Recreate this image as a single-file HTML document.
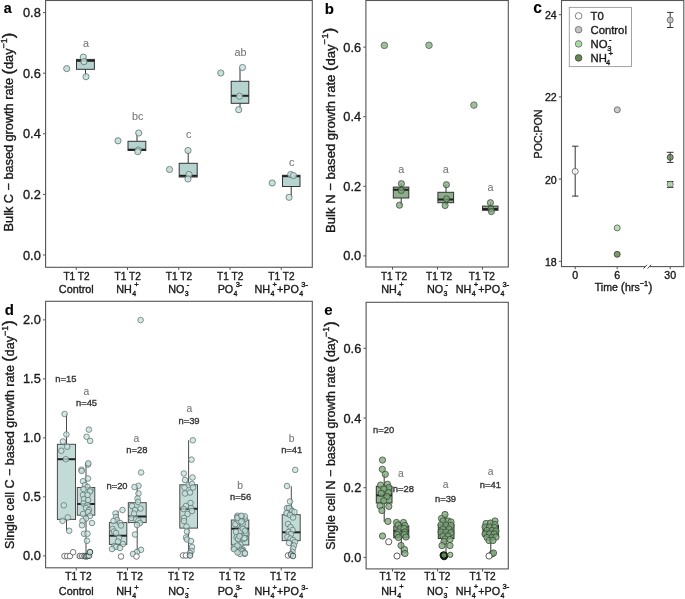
<!DOCTYPE html><html><head><meta charset="utf-8"><style>html,body{margin:0;padding:0;background:#fff;overflow:hidden}svg{display:block;will-change:transform;filter:blur(0.3px)}text{font-family:"Liberation Sans",sans-serif;stroke:currentColor;stroke-width:0.35px}</style></head><body><svg width="685" height="599" viewBox="0 0 685 599" font-family="Liberation Sans, sans-serif">
<rect width="685" height="599" fill="#fff"/>
<line x1="43.00" y1="255.00" x2="45.60" y2="255.00" stroke="#555" stroke-width="1"/>
<text x="40.80" y="259.50" font-size="12.8" text-anchor="end" fill="#1a1a1a" color="#1a1a1a" >0.0</text>
<line x1="43.00" y1="194.40" x2="45.60" y2="194.40" stroke="#555" stroke-width="1"/>
<text x="40.80" y="198.90" font-size="12.8" text-anchor="end" fill="#1a1a1a" color="#1a1a1a" >0.2</text>
<line x1="43.00" y1="133.80" x2="45.60" y2="133.80" stroke="#555" stroke-width="1"/>
<text x="40.80" y="138.30" font-size="12.8" text-anchor="end" fill="#1a1a1a" color="#1a1a1a" >0.4</text>
<line x1="43.00" y1="73.20" x2="45.60" y2="73.20" stroke="#555" stroke-width="1"/>
<text x="40.80" y="77.70" font-size="12.8" text-anchor="end" fill="#1a1a1a" color="#1a1a1a" >0.6</text>
<line x1="43.00" y1="12.60" x2="45.60" y2="12.60" stroke="#555" stroke-width="1"/>
<text x="40.80" y="17.10" font-size="12.8" text-anchor="end" fill="#1a1a1a" color="#1a1a1a" >0.8</text>
<line x1="76.25" y1="267.30" x2="76.25" y2="269.90" stroke="#555" stroke-width="1"/>
<line x1="127.50" y1="267.30" x2="127.50" y2="269.90" stroke="#555" stroke-width="1"/>
<line x1="178.75" y1="267.30" x2="178.75" y2="269.90" stroke="#555" stroke-width="1"/>
<line x1="230.00" y1="267.30" x2="230.00" y2="269.90" stroke="#555" stroke-width="1"/>
<line x1="281.25" y1="267.30" x2="281.25" y2="269.90" stroke="#555" stroke-width="1"/>
<circle cx="66.70" cy="68.60" r="3.1" fill="#c6e0dc" stroke="#5d7370" stroke-width="0.8"/>
<circle cx="118.00" cy="140.80" r="3.1" fill="#c6e0dc" stroke="#5d7370" stroke-width="0.8"/>
<circle cx="169.50" cy="169.50" r="3.1" fill="#c6e0dc" stroke="#5d7370" stroke-width="0.8"/>
<circle cx="220.80" cy="73.00" r="3.1" fill="#c6e0dc" stroke="#5d7370" stroke-width="0.8"/>
<circle cx="272.20" cy="183.00" r="3.1" fill="#c6e0dc" stroke="#5d7370" stroke-width="0.8"/>
<line x1="85.50" y1="57.10" x2="85.50" y2="59.40" stroke="#333" stroke-width="1.0"/>
<line x1="85.50" y1="69.30" x2="85.50" y2="76.70" stroke="#333" stroke-width="1.0"/>
<rect x="76.50" y="59.40" width="17.90" height="9.90" fill="#b5d3cf" stroke="#333" stroke-width="1.0"/>
<line x1="76.50" y1="60.80" x2="94.40" y2="60.80" stroke="#222" stroke-width="2.0"/>
<line x1="137.00" y1="133.00" x2="137.00" y2="141.30" stroke="#333" stroke-width="1.0"/>
<line x1="137.00" y1="150.50" x2="137.00" y2="151.70" stroke="#333" stroke-width="1.0"/>
<rect x="128.00" y="141.30" width="17.80" height="9.20" fill="#b5d3cf" stroke="#333" stroke-width="1.0"/>
<line x1="128.00" y1="149.70" x2="145.80" y2="149.70" stroke="#222" stroke-width="2.0"/>
<line x1="188.20" y1="150.50" x2="188.20" y2="163.30" stroke="#333" stroke-width="1.0"/>
<line x1="188.20" y1="177.00" x2="188.20" y2="179.00" stroke="#333" stroke-width="1.0"/>
<rect x="179.20" y="163.30" width="18.00" height="13.70" fill="#b5d3cf" stroke="#333" stroke-width="1.0"/>
<line x1="179.20" y1="175.80" x2="197.20" y2="175.80" stroke="#222" stroke-width="2.0"/>
<line x1="240.00" y1="67.50" x2="240.00" y2="81.30" stroke="#333" stroke-width="1.0"/>
<line x1="240.00" y1="103.30" x2="240.00" y2="109.70" stroke="#333" stroke-width="1.0"/>
<rect x="231.20" y="81.30" width="17.60" height="22.00" fill="#b5d3cf" stroke="#333" stroke-width="1.0"/>
<line x1="231.20" y1="95.80" x2="248.80" y2="95.80" stroke="#222" stroke-width="2.0"/>
<line x1="291.20" y1="175.30" x2="291.20" y2="175.30" stroke="#333" stroke-width="1.0"/>
<line x1="291.20" y1="186.50" x2="291.20" y2="197.30" stroke="#333" stroke-width="1.0"/>
<rect x="282.50" y="175.30" width="17.50" height="11.20" fill="#b5d3cf" stroke="#333" stroke-width="1.0"/>
<line x1="282.50" y1="176.20" x2="300.00" y2="176.20" stroke="#222" stroke-width="2.0"/>
<circle cx="83.30" cy="57.10" r="3.1" fill="#c6e0dc" stroke="#5d7370" stroke-width="0.8" fill-opacity="0.85"/>
<circle cx="84.00" cy="61.70" r="3.1" fill="#c6e0dc" stroke="#5d7370" stroke-width="0.8" fill-opacity="0.85"/>
<circle cx="86.00" cy="76.70" r="3.1" fill="#c6e0dc" stroke="#5d7370" stroke-width="0.8" fill-opacity="0.85"/>
<circle cx="138.70" cy="133.00" r="3.1" fill="#c6e0dc" stroke="#5d7370" stroke-width="0.8" fill-opacity="0.85"/>
<circle cx="138.30" cy="150.00" r="3.1" fill="#c6e0dc" stroke="#5d7370" stroke-width="0.8" fill-opacity="0.85"/>
<circle cx="137.80" cy="151.70" r="3.1" fill="#c6e0dc" stroke="#5d7370" stroke-width="0.8" fill-opacity="0.85"/>
<circle cx="188.00" cy="150.50" r="3.1" fill="#c6e0dc" stroke="#5d7370" stroke-width="0.8" fill-opacity="0.85"/>
<circle cx="189.00" cy="174.50" r="3.1" fill="#c6e0dc" stroke="#5d7370" stroke-width="0.8" fill-opacity="0.85"/>
<circle cx="188.00" cy="179.00" r="3.1" fill="#c6e0dc" stroke="#5d7370" stroke-width="0.8" fill-opacity="0.85"/>
<circle cx="242.50" cy="67.50" r="3.1" fill="#c6e0dc" stroke="#5d7370" stroke-width="0.8" fill-opacity="0.85"/>
<circle cx="239.50" cy="96.20" r="3.1" fill="#c6e0dc" stroke="#5d7370" stroke-width="0.8" fill-opacity="0.85"/>
<circle cx="238.70" cy="109.70" r="3.1" fill="#c6e0dc" stroke="#5d7370" stroke-width="0.8" fill-opacity="0.85"/>
<circle cx="290.70" cy="174.50" r="3.1" fill="#c6e0dc" stroke="#5d7370" stroke-width="0.8" fill-opacity="0.85"/>
<circle cx="293.50" cy="175.60" r="3.1" fill="#c6e0dc" stroke="#5d7370" stroke-width="0.8" fill-opacity="0.85"/>
<circle cx="289.10" cy="197.30" r="3.1" fill="#c6e0dc" stroke="#5d7370" stroke-width="0.8" fill-opacity="0.85"/>
<text x="86.00" y="47.00" font-size="10.8" text-anchor="middle" fill="#777" color="#777" style="stroke-width:0.1px" >a</text>
<text x="137.80" y="119.80" font-size="10.8" text-anchor="middle" fill="#777" color="#777" style="stroke-width:0.1px" >bc</text>
<text x="188.80" y="138.20" font-size="10.8" text-anchor="middle" fill="#777" color="#777" style="stroke-width:0.1px" >c</text>
<text x="240.40" y="56.20" font-size="10.8" text-anchor="middle" fill="#777" color="#777" style="stroke-width:0.1px" >ab</text>
<text x="291.70" y="165.90" font-size="10.8" text-anchor="middle" fill="#777" color="#777" style="stroke-width:0.1px" >c</text>
<rect x="45.60" y="0.50" width="266.70" height="266.80" fill="none" stroke="#555" stroke-width="1.1"/>
<text x="76.55" y="279.80" font-size="10.1" text-anchor="middle" fill="#1a1a1a" color="#1a1a1a" >T1 T2</text>
<text x="76.25" y="292.60" font-size="10.8" text-anchor="middle" fill="#1a1a1a" color="#1a1a1a" >Control</text>
<text x="127.70" y="279.80" font-size="10.1" text-anchor="middle" fill="#1a1a1a" color="#1a1a1a" >T1 T2</text>
<text x="116.29" y="292.60" font-size="10.8" text-anchor="start" fill="#1a1a1a" color="#1a1a1a" >NH</text>
<text x="132.19" y="295.90" font-size="7.0" text-anchor="start" fill="#1a1a1a" color="#1a1a1a" >4</text>
<text x="134.30" y="287.30" font-size="7.6" text-anchor="start" fill="#1a1a1a" color="#1a1a1a" >+</text>
<text x="178.95" y="279.80" font-size="10.1" text-anchor="middle" fill="#1a1a1a" color="#1a1a1a" >T1 T2</text>
<text x="168.18" y="292.60" font-size="10.8" text-anchor="start" fill="#1a1a1a" color="#1a1a1a" >NO</text>
<text x="184.68" y="295.90" font-size="7.0" text-anchor="start" fill="#1a1a1a" color="#1a1a1a" >3</text>
<text x="186.80" y="287.30" font-size="7.6" text-anchor="start" fill="#1a1a1a" color="#1a1a1a" >-</text>
<text x="230.20" y="279.80" font-size="10.1" text-anchor="middle" fill="#1a1a1a" color="#1a1a1a" >T1 T2</text>
<text x="217.63" y="292.60" font-size="10.8" text-anchor="start" fill="#1a1a1a" color="#1a1a1a" >PO</text>
<text x="233.53" y="295.90" font-size="7.0" text-anchor="start" fill="#1a1a1a" color="#1a1a1a" >4</text>
<text x="235.65" y="287.30" font-size="7.6" text-anchor="start" fill="#1a1a1a" color="#1a1a1a" >3-</text>
<text x="281.45" y="279.80" font-size="10.1" text-anchor="middle" fill="#1a1a1a" color="#1a1a1a" >T1 T2</text>
<text x="254.51" y="292.60" font-size="10.8" text-anchor="start" fill="#1a1a1a" color="#1a1a1a" >NH</text>
<text x="270.41" y="295.90" font-size="7.0" text-anchor="start" fill="#1a1a1a" color="#1a1a1a" >4</text>
<text x="272.53" y="287.30" font-size="7.6" text-anchor="start" fill="#1a1a1a" color="#1a1a1a" >+</text>
<text x="276.94" y="292.60" font-size="10.8" text-anchor="start" fill="#1a1a1a" color="#1a1a1a" >+PO</text>
<text x="299.15" y="295.90" font-size="7.0" text-anchor="start" fill="#1a1a1a" color="#1a1a1a" >4</text>
<text x="301.27" y="287.30" font-size="7.6" text-anchor="start" fill="#1a1a1a" color="#1a1a1a" >3-</text>
<g transform="translate(13.30,132.00) rotate(-90)">
<text x="0" y="0" font-size="12.7" text-anchor="middle" fill="#1a1a1a" color="#1a1a1a">Bulk C − based growth rate <tspan font-size="16.5" dy="0.4">(</tspan><tspan dy="-0.4">day</tspan><tspan font-size="9.1" dy="-6.0">−1</tspan><tspan font-size="16.5" dy="6.4">)</tspan></text>
</g>
<text x="3.80" y="13.10" font-size="14.3" text-anchor="start" fill="#000" color="#000" font-weight="bold" style="stroke-width:0.1px" >a</text>
<line x1="363.30" y1="255.90" x2="365.90" y2="255.90" stroke="#555" stroke-width="1"/>
<text x="361.10" y="260.40" font-size="12.8" text-anchor="end" fill="#1a1a1a" color="#1a1a1a" >0.0</text>
<line x1="363.30" y1="186.30" x2="365.90" y2="186.30" stroke="#555" stroke-width="1"/>
<text x="361.10" y="190.80" font-size="12.8" text-anchor="end" fill="#1a1a1a" color="#1a1a1a" >0.2</text>
<line x1="363.30" y1="116.70" x2="365.90" y2="116.70" stroke="#555" stroke-width="1"/>
<text x="361.10" y="121.20" font-size="12.8" text-anchor="end" fill="#1a1a1a" color="#1a1a1a" >0.4</text>
<line x1="363.30" y1="47.10" x2="365.90" y2="47.10" stroke="#555" stroke-width="1"/>
<text x="361.10" y="51.60" font-size="12.8" text-anchor="end" fill="#1a1a1a" color="#1a1a1a" >0.6</text>
<line x1="392.50" y1="267.00" x2="392.50" y2="269.60" stroke="#555" stroke-width="1"/>
<line x1="437.50" y1="267.00" x2="437.50" y2="269.60" stroke="#555" stroke-width="1"/>
<line x1="482.50" y1="267.00" x2="482.50" y2="269.60" stroke="#555" stroke-width="1"/>
<circle cx="384.40" cy="45.40" r="3.3" fill="#9fbf9c" stroke="#4a574a" stroke-width="0.7"/>
<circle cx="429.00" cy="45.30" r="3.3" fill="#9fbf9c" stroke="#4a574a" stroke-width="0.7"/>
<circle cx="473.90" cy="105.10" r="3.3" fill="#9fbf9c" stroke="#4a574a" stroke-width="0.7"/>
<line x1="401.20" y1="183.70" x2="401.20" y2="187.10" stroke="#333" stroke-width="1.0"/>
<line x1="401.20" y1="198.00" x2="401.20" y2="205.20" stroke="#333" stroke-width="1.0"/>
<rect x="393.30" y="187.10" width="15.50" height="10.90" fill="#8cae89" stroke="#333" stroke-width="1.0"/>
<line x1="393.30" y1="189.80" x2="408.80" y2="189.80" stroke="#222" stroke-width="2.0"/>
<line x1="446.00" y1="184.70" x2="446.00" y2="192.30" stroke="#333" stroke-width="1.0"/>
<line x1="446.00" y1="202.70" x2="446.00" y2="205.50" stroke="#333" stroke-width="1.0"/>
<rect x="437.90" y="192.30" width="15.70" height="10.40" fill="#8cae89" stroke="#333" stroke-width="1.0"/>
<line x1="437.90" y1="199.50" x2="453.60" y2="199.50" stroke="#222" stroke-width="2.0"/>
<line x1="490.50" y1="202.70" x2="490.50" y2="206.10" stroke="#333" stroke-width="1.0"/>
<line x1="490.50" y1="210.30" x2="490.50" y2="211.60" stroke="#333" stroke-width="1.0"/>
<rect x="482.50" y="206.10" width="15.50" height="4.20" fill="#8cae89" stroke="#333" stroke-width="1.0"/>
<line x1="482.50" y1="209.00" x2="498.00" y2="209.00" stroke="#222" stroke-width="2.0"/>
<circle cx="401.40" cy="183.70" r="3.1" fill="#7ea67b" stroke="#2f3d2e" stroke-width="0.7" fill-opacity="0.75"/>
<circle cx="401.20" cy="190.40" r="3.1" fill="#7ea67b" stroke="#2f3d2e" stroke-width="0.7" fill-opacity="0.75"/>
<circle cx="399.50" cy="205.20" r="3.1" fill="#7ea67b" stroke="#2f3d2e" stroke-width="0.7" fill-opacity="0.75"/>
<circle cx="446.40" cy="184.70" r="3.1" fill="#7ea67b" stroke="#2f3d2e" stroke-width="0.7" fill-opacity="0.75"/>
<circle cx="446.40" cy="198.90" r="3.1" fill="#7ea67b" stroke="#2f3d2e" stroke-width="0.7" fill-opacity="0.75"/>
<circle cx="445.10" cy="205.50" r="3.1" fill="#7ea67b" stroke="#2f3d2e" stroke-width="0.7" fill-opacity="0.75"/>
<circle cx="490.40" cy="202.70" r="3.1" fill="#7ea67b" stroke="#2f3d2e" stroke-width="0.7" fill-opacity="0.75"/>
<circle cx="491.00" cy="209.00" r="3.1" fill="#7ea67b" stroke="#2f3d2e" stroke-width="0.7" fill-opacity="0.75"/>
<circle cx="491.40" cy="211.60" r="3.1" fill="#7ea67b" stroke="#2f3d2e" stroke-width="0.7" fill-opacity="0.75"/>
<text x="401.30" y="173.00" font-size="10.8" text-anchor="middle" fill="#777" color="#777" style="stroke-width:0.1px" >a</text>
<text x="445.80" y="173.00" font-size="10.8" text-anchor="middle" fill="#777" color="#777" style="stroke-width:0.1px" >a</text>
<text x="490.40" y="190.50" font-size="10.8" text-anchor="middle" fill="#777" color="#777" style="stroke-width:0.1px" >a</text>
<rect x="365.90" y="0.50" width="142.40" height="266.50" fill="none" stroke="#555" stroke-width="1.1"/>
<text x="394.00" y="279.80" font-size="10.1" text-anchor="middle" fill="#1a1a1a" color="#1a1a1a" >T1 T2</text>
<text x="381.29" y="292.60" font-size="10.8" text-anchor="start" fill="#1a1a1a" color="#1a1a1a" >NH</text>
<text x="397.19" y="295.90" font-size="7.0" text-anchor="start" fill="#1a1a1a" color="#1a1a1a" >4</text>
<text x="399.30" y="287.30" font-size="7.6" text-anchor="start" fill="#1a1a1a" color="#1a1a1a" >+</text>
<text x="439.10" y="279.80" font-size="10.1" text-anchor="middle" fill="#1a1a1a" color="#1a1a1a" >T1 T2</text>
<text x="426.93" y="292.60" font-size="10.8" text-anchor="start" fill="#1a1a1a" color="#1a1a1a" >NO</text>
<text x="443.43" y="295.90" font-size="7.0" text-anchor="start" fill="#1a1a1a" color="#1a1a1a" >3</text>
<text x="445.55" y="287.30" font-size="7.6" text-anchor="start" fill="#1a1a1a" color="#1a1a1a" >-</text>
<text x="481.90" y="279.80" font-size="10.1" text-anchor="middle" fill="#1a1a1a" color="#1a1a1a" >T1 T2</text>
<text x="455.76" y="292.60" font-size="10.8" text-anchor="start" fill="#1a1a1a" color="#1a1a1a" >NH</text>
<text x="471.66" y="295.90" font-size="7.0" text-anchor="start" fill="#1a1a1a" color="#1a1a1a" >4</text>
<text x="473.78" y="287.30" font-size="7.6" text-anchor="start" fill="#1a1a1a" color="#1a1a1a" >+</text>
<text x="478.19" y="292.60" font-size="10.8" text-anchor="start" fill="#1a1a1a" color="#1a1a1a" >+PO</text>
<text x="500.40" y="295.90" font-size="7.0" text-anchor="start" fill="#1a1a1a" color="#1a1a1a" >4</text>
<text x="502.52" y="287.30" font-size="7.6" text-anchor="start" fill="#1a1a1a" color="#1a1a1a" >3-</text>
<g transform="translate(334.80,130.40) rotate(-90)">
<text x="0" y="0" font-size="13.1" text-anchor="middle" fill="#1a1a1a" color="#1a1a1a">Bulk N − based growth rate <tspan font-size="16.5" dy="0.4">(</tspan><tspan dy="-0.4">day</tspan><tspan font-size="9.7" dy="-6.6">−1</tspan><tspan font-size="16.5" dy="7.0">)</tspan></text>
</g>
<text x="324.80" y="13.90" font-size="15" text-anchor="start" fill="#000" color="#000" font-weight="bold" style="stroke-width:0.1px" >b</text>
<line x1="558.90" y1="261.30" x2="561.50" y2="261.30" stroke="#555" stroke-width="1"/>
<text x="556.70" y="265.80" font-size="10.6" text-anchor="end" fill="#1a1a1a" color="#1a1a1a" >18</text>
<line x1="558.90" y1="179.10" x2="561.50" y2="179.10" stroke="#555" stroke-width="1"/>
<text x="556.70" y="183.60" font-size="10.6" text-anchor="end" fill="#1a1a1a" color="#1a1a1a" >20</text>
<line x1="558.90" y1="96.90" x2="561.50" y2="96.90" stroke="#555" stroke-width="1"/>
<text x="556.70" y="101.40" font-size="10.6" text-anchor="end" fill="#1a1a1a" color="#1a1a1a" >22</text>
<line x1="558.90" y1="14.70" x2="561.50" y2="14.70" stroke="#555" stroke-width="1"/>
<text x="556.70" y="19.20" font-size="10.6" text-anchor="end" fill="#1a1a1a" color="#1a1a1a" >24</text>
<line x1="575.20" y1="266.60" x2="575.20" y2="269.20" stroke="#555" stroke-width="1"/>
<line x1="617.20" y1="266.60" x2="617.20" y2="269.20" stroke="#555" stroke-width="1"/>
<line x1="670.20" y1="266.60" x2="670.20" y2="269.20" stroke="#555" stroke-width="1"/>
<text x="575.20" y="278.70" font-size="10.6" text-anchor="middle" fill="#1a1a1a" color="#1a1a1a" >0</text>
<text x="617.20" y="278.70" font-size="10.6" text-anchor="middle" fill="#1a1a1a" color="#1a1a1a" >6</text>
<text x="670.20" y="278.70" font-size="10.6" text-anchor="middle" fill="#1a1a1a" color="#1a1a1a" >30</text>
<line x1="575.20" y1="146.20" x2="575.20" y2="196.10" stroke="#333" stroke-width="1"/>
<line x1="572.00" y1="146.20" x2="578.40" y2="146.20" stroke="#333" stroke-width="1"/>
<line x1="572.00" y1="196.10" x2="578.40" y2="196.10" stroke="#333" stroke-width="1"/>
<line x1="670.20" y1="12.40" x2="670.20" y2="27.50" stroke="#333" stroke-width="1"/>
<line x1="667.00" y1="12.40" x2="673.40" y2="12.40" stroke="#333" stroke-width="1"/>
<line x1="667.00" y1="27.50" x2="673.40" y2="27.50" stroke="#333" stroke-width="1"/>
<line x1="670.20" y1="152.30" x2="670.20" y2="162.40" stroke="#333" stroke-width="1"/>
<line x1="666.90" y1="152.30" x2="673.50" y2="152.30" stroke="#333" stroke-width="1"/>
<line x1="666.90" y1="162.40" x2="673.50" y2="162.40" stroke="#333" stroke-width="1"/>
<line x1="670.20" y1="181.50" x2="670.20" y2="187.40" stroke="#333" stroke-width="1"/>
<line x1="666.90" y1="181.50" x2="673.50" y2="181.50" stroke="#333" stroke-width="1"/>
<line x1="666.90" y1="187.40" x2="673.50" y2="187.40" stroke="#333" stroke-width="1"/>
<circle cx="575.20" cy="171.40" r="3.0" fill="#ffffff" stroke="#555" stroke-width="0.8" fill-opacity="0.82"/>
<circle cx="617.30" cy="109.80" r="3.0" fill="#c4c4c4" stroke="#555" stroke-width="0.8" fill-opacity="0.85"/>
<circle cx="670.20" cy="20.00" r="3.0" fill="#c4c4c4" stroke="#555" stroke-width="0.8" fill-opacity="0.8"/>
<circle cx="617.20" cy="227.90" r="3.0" fill="#aadba3" stroke="#555" stroke-width="0.8" fill-opacity="0.85"/>
<circle cx="617.20" cy="254.30" r="3.0" fill="#628a4f" stroke="#333" stroke-width="0.8" fill-opacity="0.85"/>
<circle cx="670.20" cy="157.30" r="3.0" fill="#628a4f" stroke="#333" stroke-width="0.8" fill-opacity="0.8"/>
<circle cx="670.20" cy="184.30" r="3.0" fill="#aadba3" stroke="#555" stroke-width="0.8" fill-opacity="0.8"/>
<rect x="561.50" y="0.50" width="122.30" height="266.10" fill="none" stroke="#555" stroke-width="1.1"/>
<rect x="645" y="264.6" width="5" height="4" fill="#fff"/>
<line x1="643.60" y1="268.60" x2="647.00" y2="264.80" stroke="#333" stroke-width="0.9"/>
<line x1="647.60" y1="268.60" x2="651.00" y2="264.80" stroke="#333" stroke-width="0.9"/>
<rect x="569.30" y="7.40" width="62.20" height="59.20" fill="#fff" stroke="#999" stroke-width="0.9"/>
<circle cx="578.60" cy="15.90" r="3.3" fill="#ffffff" stroke="#666" stroke-width="0.8"/>
<circle cx="578.60" cy="29.70" r="3.3" fill="#c4c4c4" stroke="#666" stroke-width="0.8"/>
<circle cx="578.60" cy="43.90" r="3.3" fill="#aadba3" stroke="#666" stroke-width="0.8"/>
<circle cx="578.60" cy="57.90" r="3.3" fill="#628a4f" stroke="#444" stroke-width="0.8"/>
<text x="590.50" y="19.80" font-size="11.3" text-anchor="start" fill="#1a1a1a" color="#1a1a1a" >T0</text>
<text x="590.50" y="33.70" font-size="11.3" text-anchor="start" fill="#1a1a1a" color="#1a1a1a" >Control</text>
<text x="590.50" y="47.60" font-size="11.3" text-anchor="start" fill="#1a1a1a" color="#1a1a1a" >NO</text>
<text x="607.20" y="50.60" font-size="7.6" text-anchor="start" fill="#1a1a1a" color="#1a1a1a" >3</text>
<text x="608.90" y="42.40" font-size="7.6" text-anchor="start" fill="#1a1a1a" color="#1a1a1a" >-</text>
<text x="590.50" y="61.60" font-size="11.3" text-anchor="start" fill="#1a1a1a" color="#1a1a1a" >NH</text>
<text x="606.00" y="64.80" font-size="7.4" text-anchor="start" fill="#1a1a1a" color="#1a1a1a" >4</text>
<text x="608.60" y="56.00" font-size="7.9" text-anchor="start" fill="#1a1a1a" color="#1a1a1a" >+</text>
<g transform="translate(541.5,134) rotate(-90)"><text x="0" y="0" font-size="10.6" text-anchor="middle" fill="#1a1a1a" color="#1a1a1a">POC:PON</text></g>
<text x="623.6" y="290.6" font-size="10.6" text-anchor="middle" fill="#1a1a1a" color="#1a1a1a">Time <tspan font-size="12.6" dy="0.3">(</tspan><tspan dy="-0.3">hrs</tspan><tspan font-size="7.4" dy="-4.6">−1</tspan><tspan font-size="12.6" dy="4.9">)</tspan></text>
<text x="533.20" y="12.90" font-size="15.6" text-anchor="start" fill="#000" color="#000" font-weight="bold" style="stroke-width:0.1px" >c</text>
<line x1="43.00" y1="555.90" x2="45.60" y2="555.90" stroke="#555" stroke-width="1"/>
<text x="40.80" y="560.40" font-size="12.8" text-anchor="end" fill="#1a1a1a" color="#1a1a1a" >0.0</text>
<line x1="43.00" y1="496.90" x2="45.60" y2="496.90" stroke="#555" stroke-width="1"/>
<text x="40.80" y="501.40" font-size="12.8" text-anchor="end" fill="#1a1a1a" color="#1a1a1a" >0.5</text>
<line x1="43.00" y1="437.90" x2="45.60" y2="437.90" stroke="#555" stroke-width="1"/>
<text x="40.80" y="442.40" font-size="12.8" text-anchor="end" fill="#1a1a1a" color="#1a1a1a" >1.0</text>
<line x1="43.00" y1="378.90" x2="45.60" y2="378.90" stroke="#555" stroke-width="1"/>
<text x="40.80" y="383.40" font-size="12.8" text-anchor="end" fill="#1a1a1a" color="#1a1a1a" >1.5</text>
<line x1="43.00" y1="319.90" x2="45.60" y2="319.90" stroke="#555" stroke-width="1"/>
<text x="40.80" y="324.40" font-size="12.8" text-anchor="end" fill="#1a1a1a" color="#1a1a1a" >2.0</text>
<line x1="76.25" y1="567.80" x2="76.25" y2="570.40" stroke="#555" stroke-width="1"/>
<line x1="127.50" y1="567.80" x2="127.50" y2="570.40" stroke="#555" stroke-width="1"/>
<line x1="178.75" y1="567.80" x2="178.75" y2="570.40" stroke="#555" stroke-width="1"/>
<line x1="230.00" y1="567.80" x2="230.00" y2="570.40" stroke="#555" stroke-width="1"/>
<line x1="281.25" y1="567.80" x2="281.25" y2="570.40" stroke="#555" stroke-width="1"/>
<line x1="66.50" y1="414.00" x2="66.50" y2="444.30" stroke="#4a4a4a" stroke-width="1.0"/>
<line x1="66.50" y1="519.40" x2="66.50" y2="530.80" stroke="#4a4a4a" stroke-width="1.0"/>
<rect x="57.40" y="444.30" width="18.10" height="75.10" fill="#c2dbd7" stroke="#4a4a4a" stroke-width="1.0"/>
<line x1="57.40" y1="459.20" x2="75.50" y2="459.20" stroke="#222" stroke-width="2.0"/>
<line x1="86.00" y1="463.30" x2="86.00" y2="487.50" stroke="#4a4a4a" stroke-width="1.0"/>
<line x1="86.00" y1="515.20" x2="86.00" y2="556.00" stroke="#4a4a4a" stroke-width="1.0"/>
<rect x="77.30" y="487.50" width="17.50" height="27.70" fill="#c2dbd7" stroke="#4a4a4a" stroke-width="1.0"/>
<line x1="77.30" y1="504.00" x2="94.80" y2="504.00" stroke="#222" stroke-width="2.0"/>
<line x1="118.00" y1="510.60" x2="118.00" y2="522.60" stroke="#4a4a4a" stroke-width="1.0"/>
<line x1="118.00" y1="544.40" x2="118.00" y2="549.00" stroke="#4a4a4a" stroke-width="1.0"/>
<rect x="109.40" y="522.60" width="17.40" height="21.80" fill="#c2dbd7" stroke="#4a4a4a" stroke-width="1.0"/>
<line x1="109.40" y1="535.70" x2="126.80" y2="535.70" stroke="#222" stroke-width="2.0"/>
<line x1="137.20" y1="485.80" x2="137.20" y2="502.70" stroke="#4a4a4a" stroke-width="1.0"/>
<line x1="137.20" y1="522.60" x2="137.20" y2="556.00" stroke="#4a4a4a" stroke-width="1.0"/>
<rect x="128.30" y="502.70" width="17.90" height="19.90" fill="#c2dbd7" stroke="#4a4a4a" stroke-width="1.0"/>
<line x1="128.30" y1="516.50" x2="146.20" y2="516.50" stroke="#222" stroke-width="2.0"/>
<line x1="188.60" y1="440.30" x2="188.60" y2="484.80" stroke="#4a4a4a" stroke-width="1.0"/>
<line x1="188.60" y1="528.10" x2="188.60" y2="556.00" stroke="#4a4a4a" stroke-width="1.0"/>
<rect x="179.80" y="484.80" width="17.70" height="43.30" fill="#c2dbd7" stroke="#4a4a4a" stroke-width="1.0"/>
<line x1="179.80" y1="508.80" x2="197.50" y2="508.80" stroke="#222" stroke-width="2.0"/>
<line x1="240.00" y1="513.00" x2="240.00" y2="520.00" stroke="#4a4a4a" stroke-width="1.0"/>
<line x1="240.00" y1="545.00" x2="240.00" y2="555.00" stroke="#4a4a4a" stroke-width="1.0"/>
<rect x="231.30" y="520.00" width="17.50" height="25.00" fill="#c2dbd7" stroke="#4a4a4a" stroke-width="1.0"/>
<line x1="231.30" y1="528.70" x2="248.80" y2="528.70" stroke="#222" stroke-width="2.0"/>
<line x1="291.30" y1="486.30" x2="291.30" y2="514.70" stroke="#4a4a4a" stroke-width="1.0"/>
<line x1="291.30" y1="540.60" x2="291.30" y2="553.00" stroke="#4a4a4a" stroke-width="1.0"/>
<rect x="282.20" y="514.70" width="18.00" height="25.90" fill="#c2dbd7" stroke="#4a4a4a" stroke-width="1.0"/>
<line x1="282.20" y1="532.30" x2="300.20" y2="532.30" stroke="#222" stroke-width="2.0"/>
<circle cx="64.60" cy="414.00" r="2.8" fill="#c6e0dc" stroke="#5d7370" stroke-width="0.75" fill-opacity="0.75"/>
<circle cx="66.40" cy="434.50" r="2.8" fill="#c6e0dc" stroke="#5d7370" stroke-width="0.75" fill-opacity="0.75"/>
<circle cx="62.90" cy="441.50" r="2.8" fill="#c6e0dc" stroke="#5d7370" stroke-width="0.75" fill-opacity="0.75"/>
<circle cx="67.20" cy="446.70" r="2.8" fill="#c6e0dc" stroke="#5d7370" stroke-width="0.75" fill-opacity="0.75"/>
<circle cx="61.30" cy="450.80" r="2.8" fill="#c6e0dc" stroke="#5d7370" stroke-width="0.75" fill-opacity="0.75"/>
<circle cx="65.80" cy="459.20" r="2.8" fill="#c6e0dc" stroke="#5d7370" stroke-width="0.75" fill-opacity="0.75"/>
<circle cx="63.80" cy="505.30" r="2.8" fill="#c6e0dc" stroke="#5d7370" stroke-width="0.75" fill-opacity="0.75"/>
<circle cx="67.80" cy="517.50" r="2.8" fill="#c6e0dc" stroke="#5d7370" stroke-width="0.75" fill-opacity="0.75"/>
<circle cx="62.50" cy="520.80" r="2.8" fill="#c6e0dc" stroke="#5d7370" stroke-width="0.75" fill-opacity="0.75"/>
<circle cx="69.20" cy="530.80" r="2.8" fill="#c6e0dc" stroke="#5d7370" stroke-width="0.75" fill-opacity="0.75"/>
<circle cx="88.90" cy="429.60" r="2.8" fill="#c6e0dc" stroke="#5d7370" stroke-width="0.75" fill-opacity="0.75"/>
<circle cx="86.60" cy="436.80" r="2.8" fill="#c6e0dc" stroke="#5d7370" stroke-width="0.75" fill-opacity="0.75"/>
<circle cx="90.10" cy="440.90" r="2.8" fill="#c6e0dc" stroke="#5d7370" stroke-width="0.75" fill-opacity="0.75"/>
<circle cx="88.00" cy="464.60" r="2.8" fill="#c6e0dc" stroke="#5d7370" stroke-width="0.75" fill-opacity="0.75"/>
<circle cx="81.50" cy="469.70" r="2.8" fill="#c6e0dc" stroke="#5d7370" stroke-width="0.75" fill-opacity="0.75"/>
<circle cx="88.30" cy="463.30" r="2.8" fill="#c6e0dc" stroke="#5d7370" stroke-width="0.75" fill-opacity="0.75"/>
<circle cx="81.70" cy="471.00" r="2.8" fill="#c6e0dc" stroke="#5d7370" stroke-width="0.75" fill-opacity="0.75"/>
<circle cx="88.00" cy="478.50" r="2.8" fill="#c6e0dc" stroke="#5d7370" stroke-width="0.75" fill-opacity="0.75"/>
<circle cx="83.00" cy="481.20" r="2.8" fill="#c6e0dc" stroke="#5d7370" stroke-width="0.75" fill-opacity="0.75"/>
<circle cx="85.00" cy="485.00" r="2.8" fill="#c6e0dc" stroke="#5d7370" stroke-width="0.75" fill-opacity="0.75"/>
<circle cx="87.50" cy="487.00" r="2.8" fill="#c6e0dc" stroke="#5d7370" stroke-width="0.75" fill-opacity="0.75"/>
<circle cx="90.50" cy="490.00" r="2.8" fill="#c6e0dc" stroke="#5d7370" stroke-width="0.75" fill-opacity="0.75"/>
<circle cx="83.50" cy="489.00" r="2.8" fill="#c6e0dc" stroke="#5d7370" stroke-width="0.75" fill-opacity="0.75"/>
<circle cx="90.00" cy="491.50" r="2.8" fill="#c6e0dc" stroke="#5d7370" stroke-width="0.75" fill-opacity="0.75"/>
<circle cx="83.00" cy="495.00" r="2.8" fill="#c6e0dc" stroke="#5d7370" stroke-width="0.75" fill-opacity="0.75"/>
<circle cx="87.50" cy="495.00" r="2.8" fill="#c6e0dc" stroke="#5d7370" stroke-width="0.75" fill-opacity="0.75"/>
<circle cx="84.00" cy="499.00" r="2.8" fill="#c6e0dc" stroke="#5d7370" stroke-width="0.75" fill-opacity="0.75"/>
<circle cx="88.00" cy="500.00" r="2.8" fill="#c6e0dc" stroke="#5d7370" stroke-width="0.75" fill-opacity="0.75"/>
<circle cx="83.50" cy="503.50" r="2.8" fill="#c6e0dc" stroke="#5d7370" stroke-width="0.75" fill-opacity="0.75"/>
<circle cx="87.50" cy="505.00" r="2.8" fill="#c6e0dc" stroke="#5d7370" stroke-width="0.75" fill-opacity="0.75"/>
<circle cx="86.00" cy="508.00" r="2.8" fill="#c6e0dc" stroke="#5d7370" stroke-width="0.75" fill-opacity="0.75"/>
<circle cx="89.00" cy="510.00" r="2.8" fill="#c6e0dc" stroke="#5d7370" stroke-width="0.75" fill-opacity="0.75"/>
<circle cx="88.00" cy="512.00" r="2.8" fill="#c6e0dc" stroke="#5d7370" stroke-width="0.75" fill-opacity="0.75"/>
<circle cx="83.00" cy="514.00" r="2.8" fill="#c6e0dc" stroke="#5d7370" stroke-width="0.75" fill-opacity="0.75"/>
<circle cx="90.00" cy="516.00" r="2.8" fill="#c6e0dc" stroke="#5d7370" stroke-width="0.75" fill-opacity="0.75"/>
<circle cx="86.00" cy="518.50" r="2.8" fill="#c6e0dc" stroke="#5d7370" stroke-width="0.75" fill-opacity="0.75"/>
<circle cx="82.50" cy="521.00" r="2.8" fill="#c6e0dc" stroke="#5d7370" stroke-width="0.75" fill-opacity="0.75"/>
<circle cx="92.00" cy="523.00" r="2.8" fill="#c6e0dc" stroke="#5d7370" stroke-width="0.75" fill-opacity="0.75"/>
<circle cx="82.00" cy="525.30" r="2.8" fill="#c6e0dc" stroke="#5d7370" stroke-width="0.75" fill-opacity="0.75"/>
<circle cx="84.00" cy="533.70" r="2.8" fill="#c6e0dc" stroke="#5d7370" stroke-width="0.75" fill-opacity="0.75"/>
<circle cx="87.50" cy="533.70" r="2.8" fill="#c6e0dc" stroke="#5d7370" stroke-width="0.75" fill-opacity="0.75"/>
<circle cx="87.00" cy="540.80" r="2.8" fill="#c6e0dc" stroke="#5d7370" stroke-width="0.75" fill-opacity="0.75"/>
<circle cx="90.00" cy="552.00" r="2.8" fill="#c6e0dc" stroke="#5d7370" stroke-width="0.75" fill-opacity="0.75"/>
<circle cx="122.50" cy="510.00" r="2.8" fill="#c6e0dc" stroke="#5d7370" stroke-width="0.75" fill-opacity="0.75"/>
<circle cx="115.50" cy="513.50" r="2.8" fill="#c6e0dc" stroke="#5d7370" stroke-width="0.75" fill-opacity="0.75"/>
<circle cx="116.00" cy="517.00" r="2.8" fill="#c6e0dc" stroke="#5d7370" stroke-width="0.75" fill-opacity="0.75"/>
<circle cx="117.00" cy="520.00" r="2.8" fill="#c6e0dc" stroke="#5d7370" stroke-width="0.75" fill-opacity="0.75"/>
<circle cx="113.50" cy="521.00" r="2.8" fill="#c6e0dc" stroke="#5d7370" stroke-width="0.75" fill-opacity="0.75"/>
<circle cx="120.00" cy="523.00" r="2.8" fill="#c6e0dc" stroke="#5d7370" stroke-width="0.75" fill-opacity="0.75"/>
<circle cx="121.00" cy="525.50" r="2.8" fill="#c6e0dc" stroke="#5d7370" stroke-width="0.75" fill-opacity="0.75"/>
<circle cx="112.50" cy="529.00" r="2.8" fill="#c6e0dc" stroke="#5d7370" stroke-width="0.75" fill-opacity="0.75"/>
<circle cx="114.00" cy="531.50" r="2.8" fill="#c6e0dc" stroke="#5d7370" stroke-width="0.75" fill-opacity="0.75"/>
<circle cx="116.00" cy="533.00" r="2.8" fill="#c6e0dc" stroke="#5d7370" stroke-width="0.75" fill-opacity="0.75"/>
<circle cx="119.00" cy="538.00" r="2.8" fill="#c6e0dc" stroke="#5d7370" stroke-width="0.75" fill-opacity="0.75"/>
<circle cx="118.00" cy="541.50" r="2.8" fill="#c6e0dc" stroke="#5d7370" stroke-width="0.75" fill-opacity="0.75"/>
<circle cx="123.00" cy="544.00" r="2.8" fill="#c6e0dc" stroke="#5d7370" stroke-width="0.75" fill-opacity="0.75"/>
<circle cx="114.50" cy="546.00" r="2.8" fill="#c6e0dc" stroke="#5d7370" stroke-width="0.75" fill-opacity="0.75"/>
<circle cx="116.00" cy="547.00" r="2.8" fill="#c6e0dc" stroke="#5d7370" stroke-width="0.75" fill-opacity="0.75"/>
<circle cx="112.00" cy="549.00" r="2.8" fill="#c6e0dc" stroke="#5d7370" stroke-width="0.75" fill-opacity="0.75"/>
<circle cx="120.00" cy="548.00" r="2.8" fill="#c6e0dc" stroke="#5d7370" stroke-width="0.75" fill-opacity="0.75"/>
<circle cx="140.60" cy="320.10" r="2.8" fill="#c6e0dc" stroke="#5d7370" stroke-width="0.75" fill-opacity="0.75"/>
<circle cx="141.10" cy="472.50" r="2.8" fill="#c6e0dc" stroke="#5d7370" stroke-width="0.75" fill-opacity="0.75"/>
<circle cx="138.50" cy="485.80" r="2.8" fill="#c6e0dc" stroke="#5d7370" stroke-width="0.75" fill-opacity="0.75"/>
<circle cx="134.50" cy="487.00" r="2.8" fill="#c6e0dc" stroke="#5d7370" stroke-width="0.75" fill-opacity="0.75"/>
<circle cx="138.50" cy="493.50" r="2.8" fill="#c6e0dc" stroke="#5d7370" stroke-width="0.75" fill-opacity="0.75"/>
<circle cx="137.50" cy="498.50" r="2.8" fill="#c6e0dc" stroke="#5d7370" stroke-width="0.75" fill-opacity="0.75"/>
<circle cx="138.00" cy="502.00" r="2.8" fill="#c6e0dc" stroke="#5d7370" stroke-width="0.75" fill-opacity="0.75"/>
<circle cx="132.00" cy="506.00" r="2.8" fill="#c6e0dc" stroke="#5d7370" stroke-width="0.75" fill-opacity="0.75"/>
<circle cx="140.50" cy="508.50" r="2.8" fill="#c6e0dc" stroke="#5d7370" stroke-width="0.75" fill-opacity="0.75"/>
<circle cx="135.00" cy="510.00" r="2.8" fill="#c6e0dc" stroke="#5d7370" stroke-width="0.75" fill-opacity="0.75"/>
<circle cx="134.00" cy="513.50" r="2.8" fill="#c6e0dc" stroke="#5d7370" stroke-width="0.75" fill-opacity="0.75"/>
<circle cx="131.50" cy="518.00" r="2.8" fill="#c6e0dc" stroke="#5d7370" stroke-width="0.75" fill-opacity="0.75"/>
<circle cx="136.00" cy="519.00" r="2.8" fill="#c6e0dc" stroke="#5d7370" stroke-width="0.75" fill-opacity="0.75"/>
<circle cx="138.50" cy="520.50" r="2.8" fill="#c6e0dc" stroke="#5d7370" stroke-width="0.75" fill-opacity="0.75"/>
<circle cx="140.00" cy="523.00" r="2.8" fill="#c6e0dc" stroke="#5d7370" stroke-width="0.75" fill-opacity="0.75"/>
<circle cx="137.00" cy="525.00" r="2.8" fill="#c6e0dc" stroke="#5d7370" stroke-width="0.75" fill-opacity="0.75"/>
<circle cx="135.00" cy="534.50" r="2.8" fill="#c6e0dc" stroke="#5d7370" stroke-width="0.75" fill-opacity="0.75"/>
<circle cx="141.00" cy="549.80" r="2.8" fill="#c6e0dc" stroke="#5d7370" stroke-width="0.75" fill-opacity="0.75"/>
<circle cx="137.00" cy="552.00" r="2.8" fill="#c6e0dc" stroke="#5d7370" stroke-width="0.75" fill-opacity="0.75"/>
<circle cx="133.00" cy="554.00" r="2.8" fill="#c6e0dc" stroke="#5d7370" stroke-width="0.75" fill-opacity="0.75"/>
<circle cx="192.80" cy="440.30" r="2.8" fill="#c6e0dc" stroke="#5d7370" stroke-width="0.75" fill-opacity="0.75"/>
<circle cx="191.50" cy="459.60" r="2.8" fill="#c6e0dc" stroke="#5d7370" stroke-width="0.75" fill-opacity="0.75"/>
<circle cx="183.80" cy="473.50" r="2.8" fill="#c6e0dc" stroke="#5d7370" stroke-width="0.75" fill-opacity="0.75"/>
<circle cx="185.00" cy="480.00" r="2.8" fill="#c6e0dc" stroke="#5d7370" stroke-width="0.75" fill-opacity="0.75"/>
<circle cx="192.50" cy="477.50" r="2.8" fill="#c6e0dc" stroke="#5d7370" stroke-width="0.75" fill-opacity="0.75"/>
<circle cx="188.50" cy="485.00" r="2.8" fill="#c6e0dc" stroke="#5d7370" stroke-width="0.75" fill-opacity="0.75"/>
<circle cx="192.00" cy="484.00" r="2.8" fill="#c6e0dc" stroke="#5d7370" stroke-width="0.75" fill-opacity="0.75"/>
<circle cx="184.50" cy="487.50" r="2.8" fill="#c6e0dc" stroke="#5d7370" stroke-width="0.75" fill-opacity="0.75"/>
<circle cx="193.00" cy="487.50" r="2.8" fill="#c6e0dc" stroke="#5d7370" stroke-width="0.75" fill-opacity="0.75"/>
<circle cx="185.00" cy="493.50" r="2.8" fill="#c6e0dc" stroke="#5d7370" stroke-width="0.75" fill-opacity="0.75"/>
<circle cx="190.00" cy="492.50" r="2.8" fill="#c6e0dc" stroke="#5d7370" stroke-width="0.75" fill-opacity="0.75"/>
<circle cx="190.50" cy="503.00" r="2.8" fill="#c6e0dc" stroke="#5d7370" stroke-width="0.75" fill-opacity="0.75"/>
<circle cx="186.00" cy="506.00" r="2.8" fill="#c6e0dc" stroke="#5d7370" stroke-width="0.75" fill-opacity="0.75"/>
<circle cx="191.00" cy="508.00" r="2.8" fill="#c6e0dc" stroke="#5d7370" stroke-width="0.75" fill-opacity="0.75"/>
<circle cx="183.50" cy="509.00" r="2.8" fill="#c6e0dc" stroke="#5d7370" stroke-width="0.75" fill-opacity="0.75"/>
<circle cx="192.00" cy="511.00" r="2.8" fill="#c6e0dc" stroke="#5d7370" stroke-width="0.75" fill-opacity="0.75"/>
<circle cx="187.50" cy="514.00" r="2.8" fill="#c6e0dc" stroke="#5d7370" stroke-width="0.75" fill-opacity="0.75"/>
<circle cx="184.00" cy="518.00" r="2.8" fill="#c6e0dc" stroke="#5d7370" stroke-width="0.75" fill-opacity="0.75"/>
<circle cx="184.00" cy="521.00" r="2.8" fill="#c6e0dc" stroke="#5d7370" stroke-width="0.75" fill-opacity="0.75"/>
<circle cx="186.50" cy="526.50" r="2.8" fill="#c6e0dc" stroke="#5d7370" stroke-width="0.75" fill-opacity="0.75"/>
<circle cx="187.00" cy="531.50" r="2.8" fill="#c6e0dc" stroke="#5d7370" stroke-width="0.75" fill-opacity="0.75"/>
<circle cx="186.00" cy="537.50" r="2.8" fill="#c6e0dc" stroke="#5d7370" stroke-width="0.75" fill-opacity="0.75"/>
<circle cx="187.00" cy="539.50" r="2.8" fill="#c6e0dc" stroke="#5d7370" stroke-width="0.75" fill-opacity="0.75"/>
<circle cx="191.00" cy="541.00" r="2.8" fill="#c6e0dc" stroke="#5d7370" stroke-width="0.75" fill-opacity="0.75"/>
<circle cx="192.00" cy="547.00" r="2.8" fill="#c6e0dc" stroke="#5d7370" stroke-width="0.75" fill-opacity="0.75"/>
<circle cx="191.50" cy="551.00" r="2.8" fill="#c6e0dc" stroke="#5d7370" stroke-width="0.75" fill-opacity="0.75"/>
<circle cx="190.00" cy="553.00" r="2.8" fill="#c6e0dc" stroke="#5d7370" stroke-width="0.75" fill-opacity="0.75"/>
<circle cx="236.59" cy="537.13" r="2.8" fill="#c6e0dc" stroke="#5d7370" stroke-width="0.75" fill-opacity="0.75"/>
<circle cx="238.31" cy="539.41" r="2.8" fill="#c6e0dc" stroke="#5d7370" stroke-width="0.75" fill-opacity="0.75"/>
<circle cx="241.63" cy="517.44" r="2.8" fill="#c6e0dc" stroke="#5d7370" stroke-width="0.75" fill-opacity="0.75"/>
<circle cx="233.67" cy="548.10" r="2.8" fill="#c6e0dc" stroke="#5d7370" stroke-width="0.75" fill-opacity="0.75"/>
<circle cx="236.87" cy="524.84" r="2.8" fill="#c6e0dc" stroke="#5d7370" stroke-width="0.75" fill-opacity="0.75"/>
<circle cx="246.44" cy="534.28" r="2.8" fill="#c6e0dc" stroke="#5d7370" stroke-width="0.75" fill-opacity="0.75"/>
<circle cx="244.37" cy="534.52" r="2.8" fill="#c6e0dc" stroke="#5d7370" stroke-width="0.75" fill-opacity="0.75"/>
<circle cx="241.81" cy="521.28" r="2.8" fill="#c6e0dc" stroke="#5d7370" stroke-width="0.75" fill-opacity="0.75"/>
<circle cx="241.75" cy="549.22" r="2.8" fill="#c6e0dc" stroke="#5d7370" stroke-width="0.75" fill-opacity="0.75"/>
<circle cx="240.30" cy="544.55" r="2.8" fill="#c6e0dc" stroke="#5d7370" stroke-width="0.75" fill-opacity="0.75"/>
<circle cx="242.23" cy="517.37" r="2.8" fill="#c6e0dc" stroke="#5d7370" stroke-width="0.75" fill-opacity="0.75"/>
<circle cx="243.36" cy="538.92" r="2.8" fill="#c6e0dc" stroke="#5d7370" stroke-width="0.75" fill-opacity="0.75"/>
<circle cx="237.42" cy="515.76" r="2.8" fill="#c6e0dc" stroke="#5d7370" stroke-width="0.75" fill-opacity="0.75"/>
<circle cx="244.75" cy="534.38" r="2.8" fill="#c6e0dc" stroke="#5d7370" stroke-width="0.75" fill-opacity="0.75"/>
<circle cx="242.84" cy="549.61" r="2.8" fill="#c6e0dc" stroke="#5d7370" stroke-width="0.75" fill-opacity="0.75"/>
<circle cx="242.78" cy="551.15" r="2.8" fill="#c6e0dc" stroke="#5d7370" stroke-width="0.75" fill-opacity="0.75"/>
<circle cx="238.63" cy="546.76" r="2.8" fill="#c6e0dc" stroke="#5d7370" stroke-width="0.75" fill-opacity="0.75"/>
<circle cx="239.28" cy="551.67" r="2.8" fill="#c6e0dc" stroke="#5d7370" stroke-width="0.75" fill-opacity="0.75"/>
<circle cx="244.93" cy="518.92" r="2.8" fill="#c6e0dc" stroke="#5d7370" stroke-width="0.75" fill-opacity="0.75"/>
<circle cx="235.27" cy="524.11" r="2.8" fill="#c6e0dc" stroke="#5d7370" stroke-width="0.75" fill-opacity="0.75"/>
<circle cx="246.05" cy="532.96" r="2.8" fill="#c6e0dc" stroke="#5d7370" stroke-width="0.75" fill-opacity="0.75"/>
<circle cx="241.65" cy="527.58" r="2.8" fill="#c6e0dc" stroke="#5d7370" stroke-width="0.75" fill-opacity="0.75"/>
<circle cx="240.09" cy="530.98" r="2.8" fill="#c6e0dc" stroke="#5d7370" stroke-width="0.75" fill-opacity="0.75"/>
<circle cx="238.06" cy="538.69" r="2.8" fill="#c6e0dc" stroke="#5d7370" stroke-width="0.75" fill-opacity="0.75"/>
<circle cx="241.10" cy="550.53" r="2.8" fill="#c6e0dc" stroke="#5d7370" stroke-width="0.75" fill-opacity="0.75"/>
<circle cx="242.37" cy="551.43" r="2.8" fill="#c6e0dc" stroke="#5d7370" stroke-width="0.75" fill-opacity="0.75"/>
<circle cx="244.63" cy="553.68" r="2.8" fill="#c6e0dc" stroke="#5d7370" stroke-width="0.75" fill-opacity="0.75"/>
<circle cx="242.23" cy="521.82" r="2.8" fill="#c6e0dc" stroke="#5d7370" stroke-width="0.75" fill-opacity="0.75"/>
<circle cx="244.69" cy="552.72" r="2.8" fill="#c6e0dc" stroke="#5d7370" stroke-width="0.75" fill-opacity="0.75"/>
<circle cx="245.26" cy="538.08" r="2.8" fill="#c6e0dc" stroke="#5d7370" stroke-width="0.75" fill-opacity="0.75"/>
<circle cx="242.78" cy="523.87" r="2.8" fill="#c6e0dc" stroke="#5d7370" stroke-width="0.75" fill-opacity="0.75"/>
<circle cx="244.31" cy="538.25" r="2.8" fill="#c6e0dc" stroke="#5d7370" stroke-width="0.75" fill-opacity="0.75"/>
<circle cx="237.20" cy="517.34" r="2.8" fill="#c6e0dc" stroke="#5d7370" stroke-width="0.75" fill-opacity="0.75"/>
<circle cx="244.60" cy="553.63" r="2.8" fill="#c6e0dc" stroke="#5d7370" stroke-width="0.75" fill-opacity="0.75"/>
<circle cx="234.65" cy="546.74" r="2.8" fill="#c6e0dc" stroke="#5d7370" stroke-width="0.75" fill-opacity="0.75"/>
<circle cx="238.84" cy="521.29" r="2.8" fill="#c6e0dc" stroke="#5d7370" stroke-width="0.75" fill-opacity="0.75"/>
<circle cx="237.32" cy="545.57" r="2.8" fill="#c6e0dc" stroke="#5d7370" stroke-width="0.75" fill-opacity="0.75"/>
<circle cx="244.85" cy="516.41" r="2.8" fill="#c6e0dc" stroke="#5d7370" stroke-width="0.75" fill-opacity="0.75"/>
<circle cx="241.49" cy="516.45" r="2.8" fill="#c6e0dc" stroke="#5d7370" stroke-width="0.75" fill-opacity="0.75"/>
<circle cx="242.84" cy="528.79" r="2.8" fill="#c6e0dc" stroke="#5d7370" stroke-width="0.75" fill-opacity="0.75"/>
<circle cx="244.95" cy="553.30" r="2.8" fill="#c6e0dc" stroke="#5d7370" stroke-width="0.75" fill-opacity="0.75"/>
<circle cx="240.07" cy="553.95" r="2.8" fill="#c6e0dc" stroke="#5d7370" stroke-width="0.75" fill-opacity="0.75"/>
<circle cx="237.53" cy="517.98" r="2.8" fill="#c6e0dc" stroke="#5d7370" stroke-width="0.75" fill-opacity="0.75"/>
<circle cx="241.30" cy="515.77" r="2.8" fill="#c6e0dc" stroke="#5d7370" stroke-width="0.75" fill-opacity="0.75"/>
<circle cx="236.07" cy="531.85" r="2.8" fill="#c6e0dc" stroke="#5d7370" stroke-width="0.75" fill-opacity="0.75"/>
<circle cx="241.44" cy="521.52" r="2.8" fill="#c6e0dc" stroke="#5d7370" stroke-width="0.75" fill-opacity="0.75"/>
<circle cx="234.05" cy="549.21" r="2.8" fill="#c6e0dc" stroke="#5d7370" stroke-width="0.75" fill-opacity="0.75"/>
<circle cx="237.58" cy="552.51" r="2.8" fill="#c6e0dc" stroke="#5d7370" stroke-width="0.75" fill-opacity="0.75"/>
<circle cx="245.16" cy="530.66" r="2.8" fill="#c6e0dc" stroke="#5d7370" stroke-width="0.75" fill-opacity="0.75"/>
<circle cx="239.49" cy="536.21" r="2.8" fill="#c6e0dc" stroke="#5d7370" stroke-width="0.75" fill-opacity="0.75"/>
<circle cx="295.20" cy="469.90" r="2.8" fill="#c6e0dc" stroke="#5d7370" stroke-width="0.75" fill-opacity="0.75"/>
<circle cx="287.00" cy="486.00" r="2.8" fill="#c6e0dc" stroke="#5d7370" stroke-width="0.75" fill-opacity="0.75"/>
<circle cx="290.00" cy="501.50" r="2.8" fill="#c6e0dc" stroke="#5d7370" stroke-width="0.75" fill-opacity="0.75"/>
<circle cx="287.00" cy="508.00" r="2.8" fill="#c6e0dc" stroke="#5d7370" stroke-width="0.75" fill-opacity="0.75"/>
<circle cx="290.50" cy="509.00" r="2.8" fill="#c6e0dc" stroke="#5d7370" stroke-width="0.75" fill-opacity="0.75"/>
<circle cx="287.00" cy="513.50" r="2.8" fill="#c6e0dc" stroke="#5d7370" stroke-width="0.75" fill-opacity="0.75"/>
<circle cx="292.00" cy="514.00" r="2.8" fill="#c6e0dc" stroke="#5d7370" stroke-width="0.75" fill-opacity="0.75"/>
<circle cx="289.00" cy="508.00" r="2.8" fill="#c6e0dc" stroke="#5d7370" stroke-width="0.75" fill-opacity="0.75"/>
<circle cx="292.00" cy="511.00" r="2.8" fill="#c6e0dc" stroke="#5d7370" stroke-width="0.75" fill-opacity="0.75"/>
<circle cx="294.50" cy="512.00" r="2.8" fill="#c6e0dc" stroke="#5d7370" stroke-width="0.75" fill-opacity="0.75"/>
<circle cx="286.50" cy="513.00" r="2.8" fill="#c6e0dc" stroke="#5d7370" stroke-width="0.75" fill-opacity="0.75"/>
<circle cx="290.00" cy="515.00" r="2.8" fill="#c6e0dc" stroke="#5d7370" stroke-width="0.75" fill-opacity="0.75"/>
<circle cx="293.00" cy="517.50" r="2.8" fill="#c6e0dc" stroke="#5d7370" stroke-width="0.75" fill-opacity="0.75"/>
<circle cx="288.00" cy="524.00" r="2.8" fill="#c6e0dc" stroke="#5d7370" stroke-width="0.75" fill-opacity="0.75"/>
<circle cx="290.50" cy="527.00" r="2.8" fill="#c6e0dc" stroke="#5d7370" stroke-width="0.75" fill-opacity="0.75"/>
<circle cx="292.50" cy="530.00" r="2.8" fill="#c6e0dc" stroke="#5d7370" stroke-width="0.75" fill-opacity="0.75"/>
<circle cx="288.50" cy="532.00" r="2.8" fill="#c6e0dc" stroke="#5d7370" stroke-width="0.75" fill-opacity="0.75"/>
<circle cx="291.00" cy="534.00" r="2.8" fill="#c6e0dc" stroke="#5d7370" stroke-width="0.75" fill-opacity="0.75"/>
<circle cx="287.50" cy="537.00" r="2.8" fill="#c6e0dc" stroke="#5d7370" stroke-width="0.75" fill-opacity="0.75"/>
<circle cx="290.50" cy="538.50" r="2.8" fill="#c6e0dc" stroke="#5d7370" stroke-width="0.75" fill-opacity="0.75"/>
<circle cx="293.00" cy="540.00" r="2.8" fill="#c6e0dc" stroke="#5d7370" stroke-width="0.75" fill-opacity="0.75"/>
<circle cx="295.00" cy="542.00" r="2.8" fill="#c6e0dc" stroke="#5d7370" stroke-width="0.75" fill-opacity="0.75"/>
<circle cx="289.00" cy="543.00" r="2.8" fill="#c6e0dc" stroke="#5d7370" stroke-width="0.75" fill-opacity="0.75"/>
<circle cx="294.00" cy="545.50" r="2.8" fill="#c6e0dc" stroke="#5d7370" stroke-width="0.75" fill-opacity="0.75"/>
<circle cx="293.00" cy="548.50" r="2.8" fill="#c6e0dc" stroke="#5d7370" stroke-width="0.75" fill-opacity="0.75"/>
<circle cx="292.50" cy="552.00" r="2.8" fill="#c6e0dc" stroke="#5d7370" stroke-width="0.75" fill-opacity="0.75"/>
<circle cx="64.50" cy="556.10" r="2.8" fill="#ffffff" stroke="#555" stroke-width="0.8"/>
<circle cx="67.20" cy="556.10" r="2.8" fill="#ffffff" stroke="#555" stroke-width="0.8"/>
<circle cx="70.00" cy="556.10" r="2.8" fill="#ffffff" stroke="#555" stroke-width="0.8"/>
<circle cx="73.10" cy="552.20" r="2.8" fill="#ffffff" stroke="#555" stroke-width="0.8"/>
<circle cx="121.00" cy="556.50" r="2.8" fill="#ffffff" stroke="#555" stroke-width="0.8"/>
<circle cx="136.50" cy="556.50" r="2.8" fill="#ffffff" stroke="#555" stroke-width="0.8"/>
<circle cx="183.00" cy="555.50" r="2.8" fill="#ffffff" stroke="#555" stroke-width="0.8"/>
<circle cx="186.00" cy="555.50" r="2.8" fill="#ffffff" stroke="#555" stroke-width="0.8"/>
<circle cx="288.00" cy="555.50" r="2.8" fill="#ffffff" stroke="#555" stroke-width="0.8"/>
<circle cx="79.70" cy="556.00" r="2.8" fill="#d0d0d0" stroke="#555" stroke-width="0.8"/>
<circle cx="82.30" cy="556.00" r="2.8" fill="#ffffff" stroke="#555" stroke-width="0.8"/>
<circle cx="84.50" cy="556.00" r="2.8" fill="#c6e0dc" stroke="#2f3a38" stroke-width="0.8" fill-opacity="0.7"/>
<circle cx="86.00" cy="556.50" r="2.8" fill="#c6e0dc" stroke="#2f3a38" stroke-width="0.8" fill-opacity="0.7"/>
<circle cx="87.50" cy="556.00" r="2.8" fill="#c6e0dc" stroke="#2f3a38" stroke-width="0.8" fill-opacity="0.7"/>
<circle cx="89.00" cy="555.80" r="2.8" fill="#c6e0dc" stroke="#2f3a38" stroke-width="0.8" fill-opacity="0.7"/>
<circle cx="89.90" cy="552.20" r="2.8" fill="#c6e0dc" stroke="#2f3a38" stroke-width="0.8" fill-opacity="0.7"/>
<circle cx="190.00" cy="555.50" r="2.8" fill="#c6e0dc" stroke="#2f3a38" stroke-width="0.8" fill-opacity="0.7"/>
<circle cx="291.00" cy="554.50" r="2.8" fill="#c6e0dc" stroke="#2f3a38" stroke-width="0.8" fill-opacity="0.7"/>
<circle cx="293.00" cy="556.00" r="2.8" fill="#c6e0dc" stroke="#2f3a38" stroke-width="0.8" fill-opacity="0.7"/>
<text x="65.80" y="381.90" font-size="9.4" text-anchor="middle" fill="#333" color="#333" >n=15</text>
<text x="86.50" y="405.70" font-size="9.4" text-anchor="middle" fill="#333" color="#333" >n=45</text>
<text x="117.00" y="489.00" font-size="9.4" text-anchor="middle" fill="#333" color="#333" >n=20</text>
<text x="136.90" y="452.80" font-size="9.4" text-anchor="middle" fill="#333" color="#333" >n=28</text>
<text x="189.00" y="424.00" font-size="9.4" text-anchor="middle" fill="#333" color="#333" >n=39</text>
<text x="240.60" y="500.30" font-size="9.4" text-anchor="middle" fill="#333" color="#333" >n=56</text>
<text x="291.70" y="452.80" font-size="9.4" text-anchor="middle" fill="#333" color="#333" >n=41</text>
<text x="86.40" y="394.50" font-size="10.3" text-anchor="middle" fill="#777" color="#777" style="stroke-width:0.1px" >a</text>
<text x="136.30" y="441.50" font-size="10.3" text-anchor="middle" fill="#777" color="#777" style="stroke-width:0.1px" >a</text>
<text x="189.30" y="411.60" font-size="10.3" text-anchor="middle" fill="#777" color="#777" style="stroke-width:0.1px" >a</text>
<text x="240.00" y="489.00" font-size="10.3" text-anchor="middle" fill="#777" color="#777" style="stroke-width:0.1px" >b</text>
<text x="291.70" y="441.80" font-size="10.3" text-anchor="middle" fill="#777" color="#777" style="stroke-width:0.1px" >b</text>
<rect x="45.60" y="301.30" width="266.70" height="266.50" fill="none" stroke="#555" stroke-width="1.1"/>
<text x="78.45" y="580.40" font-size="10.1" text-anchor="middle" fill="#1a1a1a" color="#1a1a1a" >T1 T2</text>
<text x="76.25" y="594.90" font-size="10.8" text-anchor="middle" fill="#1a1a1a" color="#1a1a1a" >Control</text>
<text x="129.80" y="580.40" font-size="10.1" text-anchor="middle" fill="#1a1a1a" color="#1a1a1a" >T1 T2</text>
<text x="116.29" y="594.90" font-size="10.8" text-anchor="start" fill="#1a1a1a" color="#1a1a1a" >NH</text>
<text x="132.19" y="598.20" font-size="7.0" text-anchor="start" fill="#1a1a1a" color="#1a1a1a" >4</text>
<text x="134.30" y="589.60" font-size="7.6" text-anchor="start" fill="#1a1a1a" color="#1a1a1a" >+</text>
<text x="181.05" y="580.40" font-size="10.1" text-anchor="middle" fill="#1a1a1a" color="#1a1a1a" >T1 T2</text>
<text x="168.18" y="594.90" font-size="10.8" text-anchor="start" fill="#1a1a1a" color="#1a1a1a" >NO</text>
<text x="184.68" y="598.20" font-size="7.0" text-anchor="start" fill="#1a1a1a" color="#1a1a1a" >3</text>
<text x="186.80" y="589.60" font-size="7.6" text-anchor="start" fill="#1a1a1a" color="#1a1a1a" >-</text>
<text x="232.10" y="580.40" font-size="10.1" text-anchor="middle" fill="#1a1a1a" color="#1a1a1a" >T1 T2</text>
<text x="217.63" y="594.90" font-size="10.8" text-anchor="start" fill="#1a1a1a" color="#1a1a1a" >PO</text>
<text x="233.53" y="598.20" font-size="7.0" text-anchor="start" fill="#1a1a1a" color="#1a1a1a" >4</text>
<text x="235.65" y="589.60" font-size="7.6" text-anchor="start" fill="#1a1a1a" color="#1a1a1a" >3-</text>
<text x="283.05" y="580.40" font-size="10.1" text-anchor="middle" fill="#1a1a1a" color="#1a1a1a" >T1 T2</text>
<text x="254.51" y="594.90" font-size="10.8" text-anchor="start" fill="#1a1a1a" color="#1a1a1a" >NH</text>
<text x="270.41" y="598.20" font-size="7.0" text-anchor="start" fill="#1a1a1a" color="#1a1a1a" >4</text>
<text x="272.53" y="589.60" font-size="7.6" text-anchor="start" fill="#1a1a1a" color="#1a1a1a" >+</text>
<text x="276.94" y="594.90" font-size="10.8" text-anchor="start" fill="#1a1a1a" color="#1a1a1a" >+PO</text>
<text x="299.15" y="598.20" font-size="7.0" text-anchor="start" fill="#1a1a1a" color="#1a1a1a" >4</text>
<text x="301.27" y="589.60" font-size="7.6" text-anchor="start" fill="#1a1a1a" color="#1a1a1a" >3-</text>
<g transform="translate(13.80,434.60) rotate(-90)">
<text x="0" y="0" font-size="12.5" text-anchor="middle" fill="#1a1a1a" color="#1a1a1a">Single cell C − based growth rate <tspan font-size="16.5" dy="0.4">(</tspan><tspan dy="-0.4">day</tspan><tspan font-size="9.0" dy="-6.0">−1</tspan><tspan font-size="16.5" dy="6.4">)</tspan></text>
</g>
<text x="4.70" y="314.50" font-size="15" text-anchor="start" fill="#000" color="#000" font-weight="bold" style="stroke-width:0.1px" >d</text>
<line x1="363.50" y1="557.40" x2="366.10" y2="557.40" stroke="#555" stroke-width="1"/>
<text x="361.30" y="561.90" font-size="12.8" text-anchor="end" fill="#1a1a1a" color="#1a1a1a" >0.0</text>
<line x1="363.50" y1="487.70" x2="366.10" y2="487.70" stroke="#555" stroke-width="1"/>
<text x="361.30" y="492.20" font-size="12.8" text-anchor="end" fill="#1a1a1a" color="#1a1a1a" >0.2</text>
<line x1="363.50" y1="418.00" x2="366.10" y2="418.00" stroke="#555" stroke-width="1"/>
<text x="361.30" y="422.50" font-size="12.8" text-anchor="end" fill="#1a1a1a" color="#1a1a1a" >0.4</text>
<line x1="363.50" y1="348.30" x2="366.10" y2="348.30" stroke="#555" stroke-width="1"/>
<text x="361.30" y="352.80" font-size="12.8" text-anchor="end" fill="#1a1a1a" color="#1a1a1a" >0.6</text>
<line x1="392.50" y1="568.90" x2="392.50" y2="571.50" stroke="#555" stroke-width="1"/>
<line x1="437.50" y1="568.90" x2="437.50" y2="571.50" stroke="#555" stroke-width="1"/>
<line x1="482.50" y1="568.90" x2="482.50" y2="571.50" stroke="#555" stroke-width="1"/>
<line x1="384.20" y1="474.00" x2="384.20" y2="486.30" stroke="#333" stroke-width="1.0"/>
<line x1="384.20" y1="503.00" x2="384.20" y2="522.00" stroke="#333" stroke-width="1.0"/>
<rect x="376.30" y="486.30" width="15.70" height="16.70" fill="#8cae89" stroke="#333" stroke-width="1.0"/>
<line x1="376.30" y1="495.30" x2="392.00" y2="495.30" stroke="#222" stroke-width="2.0"/>
<line x1="401.30" y1="522.00" x2="401.30" y2="526.00" stroke="#333" stroke-width="1.0"/>
<line x1="401.30" y1="537.80" x2="401.30" y2="555.00" stroke="#333" stroke-width="1.0"/>
<rect x="393.80" y="526.00" width="15.00" height="11.80" fill="#8cae89" stroke="#333" stroke-width="1.0"/>
<line x1="393.80" y1="531.00" x2="408.80" y2="531.00" stroke="#222" stroke-width="2.0"/>
<line x1="446.00" y1="514.20" x2="446.00" y2="524.40" stroke="#333" stroke-width="1.0"/>
<line x1="446.00" y1="538.50" x2="446.00" y2="556.00" stroke="#333" stroke-width="1.0"/>
<rect x="438.30" y="524.40" width="15.70" height="14.10" fill="#8cae89" stroke="#333" stroke-width="1.0"/>
<line x1="438.30" y1="531.50" x2="454.00" y2="531.50" stroke="#222" stroke-width="2.0"/>
<line x1="490.80" y1="520.00" x2="490.80" y2="525.50" stroke="#333" stroke-width="1.0"/>
<line x1="490.80" y1="535.80" x2="490.80" y2="555.00" stroke="#333" stroke-width="1.0"/>
<rect x="483.00" y="525.50" width="15.50" height="10.30" fill="#8cae89" stroke="#333" stroke-width="1.0"/>
<line x1="483.00" y1="531.00" x2="498.50" y2="531.00" stroke="#222" stroke-width="2.0"/>
<circle cx="382.50" cy="460.10" r="3.15" fill="#7ea67b" stroke="#2f3d2e" stroke-width="0.7" fill-opacity="0.78"/>
<circle cx="382.30" cy="469.30" r="3.15" fill="#7ea67b" stroke="#2f3d2e" stroke-width="0.7" fill-opacity="0.78"/>
<circle cx="385.30" cy="474.30" r="3.15" fill="#7ea67b" stroke="#2f3d2e" stroke-width="0.7" fill-opacity="0.78"/>
<circle cx="380.60" cy="485.10" r="3.15" fill="#7ea67b" stroke="#2f3d2e" stroke-width="0.7" fill-opacity="0.78"/>
<circle cx="387.50" cy="484.30" r="3.15" fill="#7ea67b" stroke="#2f3d2e" stroke-width="0.7" fill-opacity="0.78"/>
<circle cx="388.80" cy="487.60" r="3.15" fill="#7ea67b" stroke="#2f3d2e" stroke-width="0.7" fill-opacity="0.78"/>
<circle cx="383.80" cy="488.90" r="3.15" fill="#7ea67b" stroke="#2f3d2e" stroke-width="0.7" fill-opacity="0.78"/>
<circle cx="381.30" cy="493.30" r="3.15" fill="#7ea67b" stroke="#2f3d2e" stroke-width="0.7" fill-opacity="0.78"/>
<circle cx="388.50" cy="492.60" r="3.15" fill="#7ea67b" stroke="#2f3d2e" stroke-width="0.7" fill-opacity="0.78"/>
<circle cx="386.90" cy="496.40" r="3.15" fill="#7ea67b" stroke="#2f3d2e" stroke-width="0.7" fill-opacity="0.78"/>
<circle cx="383.80" cy="500.80" r="3.15" fill="#7ea67b" stroke="#2f3d2e" stroke-width="0.7" fill-opacity="0.78"/>
<circle cx="380.00" cy="505.80" r="3.15" fill="#7ea67b" stroke="#2f3d2e" stroke-width="0.7" fill-opacity="0.78"/>
<circle cx="388.80" cy="506.40" r="3.15" fill="#7ea67b" stroke="#2f3d2e" stroke-width="0.7" fill-opacity="0.78"/>
<circle cx="381.90" cy="510.50" r="3.15" fill="#7ea67b" stroke="#2f3d2e" stroke-width="0.7" fill-opacity="0.78"/>
<circle cx="387.90" cy="521.40" r="3.15" fill="#7ea67b" stroke="#2f3d2e" stroke-width="0.7" fill-opacity="0.78"/>
<circle cx="382.50" cy="536.00" r="3.15" fill="#7ea67b" stroke="#2f3d2e" stroke-width="0.7" fill-opacity="0.78"/>
<circle cx="396.50" cy="522.50" r="3.15" fill="#7ea67b" stroke="#2f3d2e" stroke-width="0.7" fill-opacity="0.78"/>
<circle cx="403.50" cy="522.50" r="3.15" fill="#7ea67b" stroke="#2f3d2e" stroke-width="0.7" fill-opacity="0.78"/>
<circle cx="398.00" cy="525.00" r="3.15" fill="#7ea67b" stroke="#2f3d2e" stroke-width="0.7" fill-opacity="0.78"/>
<circle cx="405.00" cy="525.50" r="3.15" fill="#7ea67b" stroke="#2f3d2e" stroke-width="0.7" fill-opacity="0.78"/>
<circle cx="400.50" cy="528.50" r="3.15" fill="#7ea67b" stroke="#2f3d2e" stroke-width="0.7" fill-opacity="0.78"/>
<circle cx="404.00" cy="528.50" r="3.15" fill="#7ea67b" stroke="#2f3d2e" stroke-width="0.7" fill-opacity="0.78"/>
<circle cx="398.00" cy="532.00" r="3.15" fill="#7ea67b" stroke="#2f3d2e" stroke-width="0.7" fill-opacity="0.78"/>
<circle cx="405.00" cy="532.00" r="3.15" fill="#7ea67b" stroke="#2f3d2e" stroke-width="0.7" fill-opacity="0.78"/>
<circle cx="397.00" cy="534.50" r="3.15" fill="#7ea67b" stroke="#2f3d2e" stroke-width="0.7" fill-opacity="0.78"/>
<circle cx="404.50" cy="534.50" r="3.15" fill="#7ea67b" stroke="#2f3d2e" stroke-width="0.7" fill-opacity="0.78"/>
<circle cx="398.50" cy="537.50" r="3.15" fill="#7ea67b" stroke="#2f3d2e" stroke-width="0.7" fill-opacity="0.78"/>
<circle cx="406.00" cy="537.00" r="3.15" fill="#7ea67b" stroke="#2f3d2e" stroke-width="0.7" fill-opacity="0.78"/>
<circle cx="401.00" cy="545.50" r="3.15" fill="#7ea67b" stroke="#2f3d2e" stroke-width="0.7" fill-opacity="0.78"/>
<circle cx="404.50" cy="549.50" r="3.15" fill="#7ea67b" stroke="#2f3d2e" stroke-width="0.7" fill-opacity="0.78"/>
<circle cx="405.00" cy="553.50" r="3.15" fill="#7ea67b" stroke="#2f3d2e" stroke-width="0.7" fill-opacity="0.78"/>
<circle cx="445.00" cy="514.50" r="3.15" fill="#7ea67b" stroke="#2f3d2e" stroke-width="0.7" fill-opacity="0.78"/>
<circle cx="441.50" cy="518.50" r="3.15" fill="#7ea67b" stroke="#2f3d2e" stroke-width="0.7" fill-opacity="0.78"/>
<circle cx="443.00" cy="521.00" r="3.15" fill="#7ea67b" stroke="#2f3d2e" stroke-width="0.7" fill-opacity="0.78"/>
<circle cx="448.00" cy="521.00" r="3.15" fill="#7ea67b" stroke="#2f3d2e" stroke-width="0.7" fill-opacity="0.78"/>
<circle cx="451.00" cy="522.00" r="3.15" fill="#7ea67b" stroke="#2f3d2e" stroke-width="0.7" fill-opacity="0.78"/>
<circle cx="441.00" cy="525.00" r="3.15" fill="#7ea67b" stroke="#2f3d2e" stroke-width="0.7" fill-opacity="0.78"/>
<circle cx="446.00" cy="525.00" r="3.15" fill="#7ea67b" stroke="#2f3d2e" stroke-width="0.7" fill-opacity="0.78"/>
<circle cx="451.00" cy="525.50" r="3.15" fill="#7ea67b" stroke="#2f3d2e" stroke-width="0.7" fill-opacity="0.78"/>
<circle cx="443.00" cy="529.00" r="3.15" fill="#7ea67b" stroke="#2f3d2e" stroke-width="0.7" fill-opacity="0.78"/>
<circle cx="449.00" cy="529.00" r="3.15" fill="#7ea67b" stroke="#2f3d2e" stroke-width="0.7" fill-opacity="0.78"/>
<circle cx="441.00" cy="532.00" r="3.15" fill="#7ea67b" stroke="#2f3d2e" stroke-width="0.7" fill-opacity="0.78"/>
<circle cx="446.00" cy="532.00" r="3.15" fill="#7ea67b" stroke="#2f3d2e" stroke-width="0.7" fill-opacity="0.78"/>
<circle cx="451.00" cy="532.50" r="3.15" fill="#7ea67b" stroke="#2f3d2e" stroke-width="0.7" fill-opacity="0.78"/>
<circle cx="443.00" cy="536.00" r="3.15" fill="#7ea67b" stroke="#2f3d2e" stroke-width="0.7" fill-opacity="0.78"/>
<circle cx="448.00" cy="536.00" r="3.15" fill="#7ea67b" stroke="#2f3d2e" stroke-width="0.7" fill-opacity="0.78"/>
<circle cx="445.00" cy="539.00" r="3.15" fill="#7ea67b" stroke="#2f3d2e" stroke-width="0.7" fill-opacity="0.78"/>
<circle cx="450.00" cy="539.50" r="3.15" fill="#7ea67b" stroke="#2f3d2e" stroke-width="0.7" fill-opacity="0.78"/>
<circle cx="444.00" cy="541.50" r="3.15" fill="#7ea67b" stroke="#2f3d2e" stroke-width="0.7" fill-opacity="0.78"/>
<circle cx="442.00" cy="545.60" r="3.15" fill="#7ea67b" stroke="#2f3d2e" stroke-width="0.7" fill-opacity="0.78"/>
<circle cx="450.00" cy="545.60" r="3.15" fill="#7ea67b" stroke="#2f3d2e" stroke-width="0.7" fill-opacity="0.78"/>
<circle cx="495.00" cy="521.00" r="3.15" fill="#7ea67b" stroke="#2f3d2e" stroke-width="0.7" fill-opacity="0.78"/>
<circle cx="486.00" cy="523.50" r="3.15" fill="#7ea67b" stroke="#2f3d2e" stroke-width="0.7" fill-opacity="0.78"/>
<circle cx="490.50" cy="523.00" r="3.15" fill="#7ea67b" stroke="#2f3d2e" stroke-width="0.7" fill-opacity="0.78"/>
<circle cx="495.00" cy="524.50" r="3.15" fill="#7ea67b" stroke="#2f3d2e" stroke-width="0.7" fill-opacity="0.78"/>
<circle cx="485.00" cy="527.00" r="3.15" fill="#7ea67b" stroke="#2f3d2e" stroke-width="0.7" fill-opacity="0.78"/>
<circle cx="489.50" cy="527.00" r="3.15" fill="#7ea67b" stroke="#2f3d2e" stroke-width="0.7" fill-opacity="0.78"/>
<circle cx="494.50" cy="527.50" r="3.15" fill="#7ea67b" stroke="#2f3d2e" stroke-width="0.7" fill-opacity="0.78"/>
<circle cx="487.00" cy="530.50" r="3.15" fill="#7ea67b" stroke="#2f3d2e" stroke-width="0.7" fill-opacity="0.78"/>
<circle cx="492.00" cy="530.50" r="3.15" fill="#7ea67b" stroke="#2f3d2e" stroke-width="0.7" fill-opacity="0.78"/>
<circle cx="496.00" cy="531.00" r="3.15" fill="#7ea67b" stroke="#2f3d2e" stroke-width="0.7" fill-opacity="0.78"/>
<circle cx="485.00" cy="534.00" r="3.15" fill="#7ea67b" stroke="#2f3d2e" stroke-width="0.7" fill-opacity="0.78"/>
<circle cx="489.50" cy="534.00" r="3.15" fill="#7ea67b" stroke="#2f3d2e" stroke-width="0.7" fill-opacity="0.78"/>
<circle cx="494.00" cy="534.00" r="3.15" fill="#7ea67b" stroke="#2f3d2e" stroke-width="0.7" fill-opacity="0.78"/>
<circle cx="487.00" cy="537.50" r="3.15" fill="#7ea67b" stroke="#2f3d2e" stroke-width="0.7" fill-opacity="0.78"/>
<circle cx="492.00" cy="537.50" r="3.15" fill="#7ea67b" stroke="#2f3d2e" stroke-width="0.7" fill-opacity="0.78"/>
<circle cx="496.00" cy="537.00" r="3.15" fill="#7ea67b" stroke="#2f3d2e" stroke-width="0.7" fill-opacity="0.78"/>
<circle cx="489.00" cy="540.50" r="3.15" fill="#7ea67b" stroke="#2f3d2e" stroke-width="0.7" fill-opacity="0.78"/>
<circle cx="493.00" cy="540.50" r="3.15" fill="#7ea67b" stroke="#2f3d2e" stroke-width="0.7" fill-opacity="0.78"/>
<circle cx="492.00" cy="554.00" r="3.15" fill="#7ea67b" stroke="#2f3d2e" stroke-width="0.7" fill-opacity="0.78"/>
<circle cx="493.50" cy="553.00" r="3.15" fill="#7ea67b" stroke="#2f3d2e" stroke-width="0.7" fill-opacity="0.78"/>
<circle cx="388.70" cy="541.80" r="3.1" fill="#fff" stroke="#333" stroke-width="0.8"/>
<circle cx="397.00" cy="556.00" r="3.1" fill="#fff" stroke="#333" stroke-width="0.8"/>
<circle cx="489.00" cy="556.00" r="3.1" fill="#fff" stroke="#333" stroke-width="0.8"/>
<circle cx="443.20" cy="555.20" r="3.2" fill="#5d8a55" stroke="#0a0f0a" stroke-width="1.0" fill-opacity="0.55"/>
<circle cx="444.20" cy="556.60" r="3.2" fill="#5d8a55" stroke="#0a0f0a" stroke-width="1.0" fill-opacity="0.55"/>
<circle cx="444.60" cy="555.60" r="3.2" fill="#5d8a55" stroke="#0a0f0a" stroke-width="1.0" fill-opacity="0.55"/>
<circle cx="443.80" cy="556.00" r="3.2" fill="#5d8a55" stroke="#0a0f0a" stroke-width="1.0" fill-opacity="0.55"/>
<circle cx="444.00" cy="555.00" r="3.2" fill="#5d8a55" stroke="#0a0f0a" stroke-width="1.0" fill-opacity="0.55"/>
<circle cx="450.30" cy="554.80" r="2.6" fill="#9cc598" stroke="#2f3d2e" stroke-width="0.8" fill-opacity="0.9"/>
<text x="383.60" y="432.60" font-size="9.4" text-anchor="middle" fill="#333" color="#333" >n=20</text>
<text x="403.40" y="491.60" font-size="9.4" text-anchor="middle" fill="#333" color="#333" >n=28</text>
<text x="445.50" y="501.60" font-size="9.4" text-anchor="middle" fill="#333" color="#333" >n=39</text>
<text x="490.30" y="487.90" font-size="9.4" text-anchor="middle" fill="#333" color="#333" >n=41</text>
<text x="400.80" y="477.30" font-size="10.3" text-anchor="middle" fill="#777" color="#777" style="stroke-width:0.1px" >a</text>
<text x="445.50" y="488.10" font-size="10.3" text-anchor="middle" fill="#777" color="#777" style="stroke-width:0.1px" >a</text>
<text x="490.50" y="474.60" font-size="10.3" text-anchor="middle" fill="#777" color="#777" style="stroke-width:0.1px" >a</text>
<rect x="366.10" y="302.30" width="142.20" height="266.60" fill="none" stroke="#555" stroke-width="1.1"/>
<text x="392.60" y="580.20" font-size="10.1" text-anchor="middle" fill="#1a1a1a" color="#1a1a1a" >T1 T2</text>
<text x="381.29" y="594.60" font-size="10.8" text-anchor="start" fill="#1a1a1a" color="#1a1a1a" >NH</text>
<text x="397.19" y="597.90" font-size="7.0" text-anchor="start" fill="#1a1a1a" color="#1a1a1a" >4</text>
<text x="399.30" y="589.30" font-size="7.6" text-anchor="start" fill="#1a1a1a" color="#1a1a1a" >+</text>
<text x="437.40" y="580.20" font-size="10.1" text-anchor="middle" fill="#1a1a1a" color="#1a1a1a" >T1 T2</text>
<text x="426.93" y="594.60" font-size="10.8" text-anchor="start" fill="#1a1a1a" color="#1a1a1a" >NO</text>
<text x="443.43" y="597.90" font-size="7.0" text-anchor="start" fill="#1a1a1a" color="#1a1a1a" >3</text>
<text x="445.55" y="589.30" font-size="7.6" text-anchor="start" fill="#1a1a1a" color="#1a1a1a" >-</text>
<text x="482.60" y="580.20" font-size="10.1" text-anchor="middle" fill="#1a1a1a" color="#1a1a1a" >T1 T2</text>
<text x="455.76" y="594.60" font-size="10.8" text-anchor="start" fill="#1a1a1a" color="#1a1a1a" >NH</text>
<text x="471.66" y="597.90" font-size="7.0" text-anchor="start" fill="#1a1a1a" color="#1a1a1a" >4</text>
<text x="473.78" y="589.30" font-size="7.6" text-anchor="start" fill="#1a1a1a" color="#1a1a1a" >+</text>
<text x="478.19" y="594.60" font-size="10.8" text-anchor="start" fill="#1a1a1a" color="#1a1a1a" >+PO</text>
<text x="500.40" y="597.90" font-size="7.0" text-anchor="start" fill="#1a1a1a" color="#1a1a1a" >4</text>
<text x="502.52" y="589.30" font-size="7.6" text-anchor="start" fill="#1a1a1a" color="#1a1a1a" >3-</text>
<g transform="translate(335.30,435.50) rotate(-90)">
<text x="0" y="0" font-size="12.5" text-anchor="middle" fill="#1a1a1a" color="#1a1a1a">Single cell N − based growth rate <tspan font-size="16.5" dy="0.4">(</tspan><tspan dy="-0.4">day</tspan><tspan font-size="9.0" dy="-6.0">−1</tspan><tspan font-size="16.5" dy="6.4">)</tspan></text>
</g>
<text x="324.20" y="315.40" font-size="15" text-anchor="start" fill="#000" color="#000" font-weight="bold" style="stroke-width:0.1px" >e</text>
</svg></body></html>
